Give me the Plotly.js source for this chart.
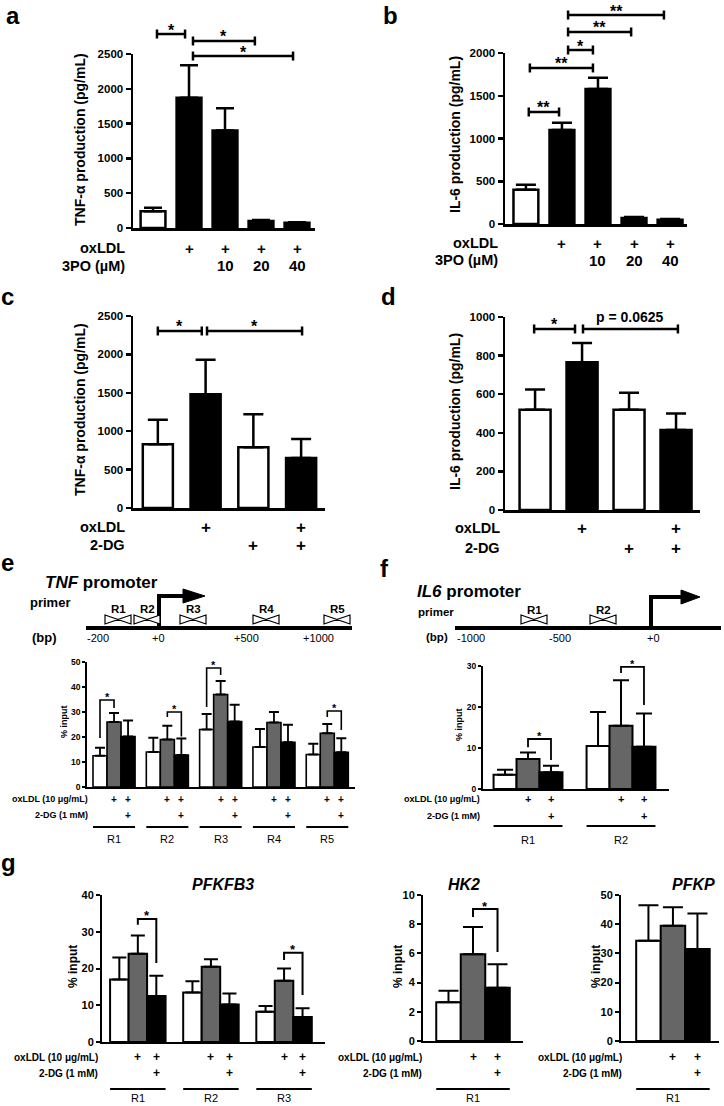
<!DOCTYPE html>
<html><head><meta charset="utf-8">
<script src="https://cdn.plot.ly/plotly-3.0.1.min.js"></script>
<style>html,body{margin:0;padding:0;background:#fff}#chart{width:724px;height:1106px}</style>
</head><body><div id="chart"></div>
<script>
// ================= DATA =================
// panel a : TNF-α (3PO)
const aOx = ['', '+', '+', '+', '+'];
const aDose = ['', '', '10', '20', '40'];
const aTNF = [240, 1870, 1400, 100, 75];
const aTNFErr = [290, 2340, 1720, 115, 82];
const aFill = ['white', 'black', 'black', 'black', 'black'];
const aSigX = [[0.11, 0.89], [1.11, 2.83], [1.11, 3.89]];
const aSigY = [2787, 2687, 2471];
const aSigLab = ['*', '*', '*'];
// panel b : IL-6 (3PO)
const bIL6 = [400, 1100, 1580, 70, 50];
const bIL6Err = [460, 1185, 1710, 82, 58];
const bSigX = [[0.08, 0.92], [0.11, 1.86], [1.17, 1.86], [1.17, 2.92], [1.17, 3.83]];
const bSigY = [1310, 1825, 2035, 2246, 2444];
const bSigLab = ['**', '**', '*', '**', '**'];
// panel c : TNF-α (2-DG)
const cdOx = ['', '+', '', '+'];
const cdDG = ['', '', '+', '+'];
const cdFill = ['white', 'black', 'white', 'black'];
const cTNF = [830, 1480, 790, 650];
const cTNFErr = [1150, 1930, 1220, 900];
const cSigX = [[0, 0.92], [1.03, 3.02]];
const cSigY = [2305, 2305];
const cSigLab = ['*', '*'];
// panel d : IL-6 (2-DG)
const dIL6 = [520, 765, 520, 415];
const dIL6Err = [625, 865, 608, 500];
const dSigX = [[-0.02, 0.85], [1.02, 3.04]];
const dSigY = [938, 938];
const dSigLab = ['*', 'p = 0.0625'];
// ChIP conditions
const chipOx = ['', '+', '+'];
const chipDG = ['', '', '+'];
const chipFill = ['white', '#666666', 'black'];
// panel e : TNF promoter ChIP
const tnfPrimers = ['R1', 'R2', 'R3', 'R4', 'R5'];
const tnfBp = ['-200', '+0', '+500', '+1000'];
const eCtrl = [12.5, 14, 23, 16, 13];
const eCtrlErr = [15.7, 19.7, 29.2, 23.2, 17.3];
const eOx = [26, 19, 37, 25.8, 21.5];
const eOxErr = [29.6, 24.5, 42.4, 30, 25.2];
const eOxDG = [20.2, 12.8, 26.2, 17.9, 13.9];
const eOxDGErr = [26.6, 19.4, 32.9, 24.9, 19.5];
const eSig = [[0, 0, 1, 34.8, 19.6, 31.6], [1, 1, 2, 30, 28, 20.2], [2, 0, 1, 47.6, 32, 44.8], [4, 1, 2, 30.4, 28, 22.8]];
// panel f : IL6 promoter ChIP
const il6Primers = ['R1', 'R2'];
const il6Bp = ['-1000', '-500', '+0'];
const fCtrl = [3.5, 10.5];
const fCtrlErr = [4.7, 18.8];
const fOx = [7.3, 15.4];
const fOxErr = [8.9, 26.5];
const fOxDG = [4.1, 10.3];
const fOxDGErr = [5.7, 18.4];
const fSig = [[0, 1, 2, 12.2, 10.2, 7.1], [1, 1, 2, 29.8, 28.3, 20.5]];
// panel g : PFKFB3 / HK2 / PFKP
const gRegions = ['R1', 'R2', 'R3'];
const pfkfb3Ctrl = [17, 13.5, 8.2];
const pfkfb3CtrlErr = [23, 16.5, 9.8];
const pfkfb3Ox = [24, 20.5, 16.7];
const pfkfb3OxErr = [29, 22.5, 20];
const pfkfb3OxDG = [12.5, 10.2, 6.8];
const pfkfb3OxDGErr = [18, 13.2, 9.2];
const pfkfb3Sig = [[0, 1, 2, 33.5, 31.9, 21.5], [2, 1, 2, 24.3, 22.3, 12.8]];
const hk2 = [2.65, 5.95, 3.65];
const hk2Err = [3.45, 7.8, 5.25];
const hk2Sig = [[0, 1, 2, 9.04, 8.5, 6.1]];
const pfkp = [34.3, 39.5, 31.5];
const pfkpErr = [46.5, 45.8, 43.7];

// ================= LAYOUT HELPERS =================
const W = 724, H = 1106;
const FA = '"Liberation Sans",Arial,Helvetica,sans-serif';
const PX = x => x / W, PY = y => 1 - y / H;

const P = {
  a: {id: '', px: [133, 315], py: [54, 228], xr: [-0.556, 4.5], yr: [0, 2500], dt: 500, lw: 2.5, tf: 11.5, tl: 5},
  b: {id: '2', px: [505, 687], py: [53, 224], xr: [-0.58, 4.47], yr: [0, 2000], dt: 500, lw: 2.5, tf: 11.5, tl: 5},
  c: {id: '3', px: [133, 325], py: [316, 508], xr: [-0.52, 3.5], yr: [0, 2500], dt: 500, lw: 2.5, tf: 11.5, tl: 5},
  d: {id: '4', px: [505, 700], py: [317, 510], xr: [-0.64, 3.51], yr: [0, 1000], dt: 200, lw: 2.5, tf: 11.5, tl: 5},
  e: {id: '5', px: [87, 355], py: [662, 787], xr: [-0.507, 4.52], yr: [0, 50], dt: 10, lw: 1.8, tf: 8.5, tl: 3},
  f: {id: '6', px: [483, 669], py: [666, 789], xr: [-0.484, 1.516], yr: [0, 30], dt: 10, lw: 2, tf: 8.5, tl: 3},
  g: {id: '7', px: [102, 325], py: [895, 1042], xr: [-0.49, 2.56], yr: [0, 40], dt: 10, lw: 2, tf: 11, tl: 4},
  h: {id: '8', px: [423, 523], py: [895, 1041], xr: [-0.51, 0.51], yr: [0, 10], dt: 2, lw: 2, tf: 11, tl: 4},
  k: {id: '9', px: [621, 719], py: [895, 1041], xr: [-0.53, 0.47], yr: [0, 50], dt: 10, lw: 2, tf: 11, tl: 4}
};
const fx = (p, v) => (v - p.xr[0]) / (p.xr[1] - p.xr[0]);
const fy = (p, v) => (v - p.yr[0]) / (p.yr[1] - p.yr[0]);

const layout = {
  width: W, height: H, margin: {l: 0, r: 0, t: 0, b: 0},
  paper_bgcolor: '#ffffff', plot_bgcolor: 'rgba(0,0,0,0)', showlegend: false,
  barmode: 'overlay', font: {family: FA, color: '#000'}, shapes: [], annotations: []
};
const shapes = layout.shapes, ann = layout.annotations;

Object.values(P).forEach(p => {
  layout['xaxis' + p.id] = {domain: [PX(p.px[0]), PX(p.px[1])], range: p.xr, anchor: 'y' + p.id,
    showline: true, linewidth: p.lw, linecolor: '#000', ticks: '', showticklabels: false,
    showgrid: false, zeroline: false, fixedrange: true};
  layout['yaxis' + p.id] = {domain: [PY(p.py[1]), PY(p.py[0])], range: p.yr, anchor: 'x' + p.id,
    showline: true, linewidth: p.lw, linecolor: '#000', ticks: 'outside', ticklen: p.tl,
    tickwidth: p.lw, tickcolor: '#000', tick0: 0, dtick: p.dt,
    tickfont: {family: FA, size: p.tf, weight: 'bold', color: '#000'},
    showgrid: false, zeroline: false, fixedrange: true};
});

function txt(text, x, y, o) {
  o = o || {};
  ann.push(Object.assign({text: text, x: x, y: y, xref: 'paper', yref: 'paper', showarrow: false,
    xanchor: 'center', yanchor: 'middle',
    font: {family: FA, size: o.size || 14, color: '#000'}}, o.extra || {}));
}
function pline(x0, y0, x1, y1, w) {
  shapes.push({type: 'line', xref: 'paper', yref: 'paper', x0: PX(x0), y0: PY(y0), x1: PX(x1), y1: PY(y1),
    line: {color: '#000', width: w}});
}

const traces = [];
function barTrace(p, xs, vals, errs, fills, w, lw, thick, cap) {
  traces.push({type: 'bar', xaxis: 'x' + p.id, yaxis: 'y' + p.id, x: xs, y: vals, width: w,
    marker: {color: fills, line: {color: '#000', width: lw}},
    error_y: {type: 'data', symmetric: false, array: errs.map((e, i) => e - vals[i]),
      arrayminus: vals.map(() => 0), color: '#000', thickness: thick, width: cap},
    cliponaxis: false, hoverinfo: 'skip'});
}

// horizontal significance bracket with end caps (panels a-d)
function hBrackets(p, xs, ys, labs) {
  const xa = 'x' + p.id + ' domain', ya = 'y' + p.id + ' domain';
  xs.forEach((pair, i) => {
    const x0 = fx(p, pair[0]), x1 = fx(p, pair[1]), y = fy(p, ys[i]);
    shapes.push({type: 'line', xref: xa, yref: ya, x0: x0, x1: x1, y0: y, y1: y, line: {color: '#000', width: 2.5}});
    [x0, x1].forEach(xx => shapes.push({type: 'line', xref: xa, yref: ya, x0: xx, x1: xx,
      ysizemode: 'pixel', yanchor: y, y0: -4.5, y1: 4.5, line: {color: '#000', width: 2.5}}));
    const isStar = labs[i].indexOf('*') === 0;
    ann.push({xref: xa, yref: ya, x: (x0 + x1) / 2, y: y, text: '<b>' + labs[i] + '</b>', showarrow: false,
      xanchor: 'center', yanchor: 'middle', yshift: isStar ? 4 : 12,
      font: {family: FA, size: isStar ? 16 : 14, color: '#000'}});
  });
}
// downward bracket (panels e-g)
function dBrackets(p, sig, w, lw, fs) {
  const xa = 'x' + p.id, ya = 'y' + p.id;
  sig.forEach(s => {
    const g = s[0], xl = g + (s[1] - 1) * w, xr = g + (s[2] - 1) * w;
    shapes.push({type: 'path', xref: xa, yref: ya,
      path: 'M' + xl + ',' + s[4] + ' L' + xl + ',' + s[3] + ' L' + xr + ',' + s[3] + ' L' + xr + ',' + s[5],
      line: {color: '#000', width: lw}});
    ann.push({xref: xa, yref: ya, x: (xl + xr) / 2, y: s[3], text: '<b>*</b>', showarrow: false,
      xanchor: 'center', yanchor: 'middle', yshift: 3, font: {family: FA, size: fs, color: '#000'}});
  });
}
// condition rows under a bar chart
function condRows(p, xs, rows, rightPx, ysPx, fsLab, fsSym) {
  rows.forEach((r, j) => {
    ann.push({xref: 'paper', yref: 'paper', x: PX(rightPx), y: PY(ysPx[j]), text: '<b>' + r[0] + '</b>',
      showarrow: false, xanchor: 'right', yanchor: 'middle', font: {family: FA, size: fsLab, color: '#000'}});
    r[1].forEach((t, i) => {
      if (!t) return;
      ann.push({xref: 'x' + p.id, yref: 'paper', x: xs[i], y: PY(ysPx[j]), text: '<b>' + t + '</b>',
        showarrow: false, xanchor: 'center', yanchor: 'middle', font: {family: FA, size: fsSym, color: '#000'}});
    });
  });
}
// region underline + label
function regionRows(p, groups, w, lineY, labY, fs) {
  groups.forEach((g, i) => {
    shapes.push({type: 'line', xref: 'x' + p.id + ' domain', yref: 'paper',
      x0: fx(p, i - 1.5 * w), x1: fx(p, i + 1.5 * w), y0: PY(lineY), y1: PY(lineY), line: {color: '#000', width: 2}});
    ann.push({xref: 'x' + p.id, yref: 'paper', x: i, y: PY(labY), text: g, showarrow: false,
      xanchor: 'center', yanchor: 'middle', font: {family: FA, size: fs, color: '#000'}});
  });
}
function ytitle(text, xPx, yPx, size) {
  txt('<b>' + text + '</b>', PX(xPx), PY(yPx), {size: size, extra: {textangle: -90}});
}
function bowtie(cx, cy, hw, hh) {
  const l = cx - hw, r = cx + hw;
  shapes.push({type: 'path', xref: 'paper', yref: 'paper', fillcolor: '#fff',
    path: 'M' + PX(l) + ',' + PY(cy - hh) + ' L' + PX(cx) + ',' + PY(cy) + ' L' + PX(l) + ',' + PY(cy + hh) + ' Z ' +
          'M' + PX(r) + ',' + PY(cy - hh) + ' L' + PX(cx) + ',' + PY(cy) + ' L' + PX(r) + ',' + PY(cy + hh) + ' Z',
    line: {color: '#000', width: 1.2}});
}
function arrowTSS(x, yBase, yTop, xEnd, headEnd) {
  shapes.push({type: 'path', xref: 'paper', yref: 'paper',
    path: 'M' + PX(x) + ',' + PY(yBase) + ' L' + PX(x) + ',' + PY(yTop) + ' L' + PX(xEnd) + ',' + PY(yTop),
    line: {color: '#000', width: 4}});
  shapes.push({type: 'path', xref: 'paper', yref: 'paper', fillcolor: '#000',
    path: 'M' + PX(xEnd - 2) + ',' + PY(yTop - 7) + ' L' + PX(headEnd) + ',' + PY(yTop) + ' L' + PX(xEnd - 2) + ',' + PY(yTop + 7) + ' Z',
    line: {color: '#000', width: 1}});
}

// ================= PANELS a-d =================
const idx5 = aTNF.map((_, i) => i), idx4 = cTNF.map((_, i) => i);
barTrace(P.a, idx5, aTNF, aTNFErr, aFill, 0.69, 2.5, 2.5, 9);
barTrace(P.b, idx5, bIL6, bIL6Err, aFill, 0.69, 2.5, 2.5, 10);
barTrace(P.c, idx4, cTNF, cTNFErr, cdFill, 0.63, 2.5, 2.5, 10);
barTrace(P.d, idx4, dIL6, dIL6Err, cdFill, 0.66, 2.5, 2.5, 10);
hBrackets(P.a, aSigX, aSigY, aSigLab);
hBrackets(P.b, bSigX, bSigY, bSigLab);
hBrackets(P.c, cSigX, cSigY, cSigLab);
hBrackets(P.d, dSigX, dSigY, dSigLab);
condRows(P.a, idx5, [['oxLDL', aOx], ['3PO (µM)', aDose]], 127, [248, 266], 14.5, 15);
condRows(P.b, idx5, [['oxLDL', aOx], ['3PO (µM)', aDose]], 500, [243, 260], 14.5, 15);
condRows(P.c, idx4, [['oxLDL', cdOx], ['2-DG', cdDG]], 127, [527, 545], 14.5, 17);
condRows(P.d, idx4, [['oxLDL', cdOx], ['2-DG', cdDG]], 502, [528, 548], 14.5, 17);
ytitle('TNF-α production (pg/mL)', 80, 140, 14);
ytitle('IL-6 production (pg/mL)', 455, 135, 14);
ytitle('TNF-α production (pg/mL)', 80, 410, 14);
ytitle('IL-6 production (pg/mL)', 455, 412, 14);

// ================= PANEL e =================
const we = 0.263;
const rep = (arr, n) => Array.from({length: n}, () => arr).flat();
[[eCtrl, eCtrlErr], [eOx, eOxErr], [eOxDG, eOxDGErr]].forEach((s, k) =>
  barTrace(P.e, s[0].map((_, i) => i + (k - 1) * we), s[0], s[1], chipFill[k], we, 1.6, 1.8, 5));
dBrackets(P.e, eSig, we, 1.6, 11);
const eSlots = [];
tnfPrimers.forEach((_, i) => [0, 1, 2].forEach(k => eSlots.push(i + (k - 1) * we)));
condRows(P.e, eSlots, [['oxLDL (10 μg/mL)', rep(chipOx, 5)], ['2-DG (1 mM)', rep(chipDG, 5)]], 90, [799, 815], 9, 10);
regionRows(P.e, tnfPrimers, we, 827, 839, 11);
ytitle('% input', 64, 722, 9);
// promoter diagram
pline(86, 628, 352, 628, 4);
arrowTSS(159, 628, 596, 185, 205);
[118, 147, 193, 266, 337].forEach((cx, i) => {
  bowtie(cx, 619.5, 13, 4.5);
  txt('<b>' + tnfPrimers[i] + '</b>', PX(cx), PY(609), {size: 11.5});
});
[98, 158, 246, 318].forEach((cx, i) => txt(tnfBp[i], PX(cx), PY(638), {size: 11}));
txt('<b><i>TNF</i> promoter</b>', PX(43), PY(582), {size: 17, extra: {xanchor: 'left'}});
txt('<b>primer</b>', PX(28), PY(602), {size: 13, extra: {xanchor: 'left'}});
txt('<b>(bp)</b>', PX(30), PY(637), {size: 13, extra: {xanchor: 'left'}});

// ================= PANEL f =================
const wf = 0.247;
[[fCtrl, fCtrlErr], [fOx, fOxErr], [fOxDG, fOxDGErr]].forEach((s, k) =>
  barTrace(P.f, s[0].map((_, i) => i + (k - 1) * wf), s[0], s[1], chipFill[k], wf, 2, 2, 8));
dBrackets(P.f, fSig, wf, 1.8, 11);
const fSlots = [];
il6Primers.forEach((_, i) => [0, 1, 2].forEach(k => fSlots.push(i + (k - 1) * wf)));
condRows(P.f, fSlots, [['oxLDL (10 μg/mL)', rep(chipOx, 2)], ['2-DG (1 mM)', rep(chipDG, 2)]], 482, [799, 816], 9, 11);
regionRows(P.f, il6Primers, wf, 826, 840, 11);
ytitle('% input', 459, 725, 9);
pline(455, 628, 721, 628, 4);
arrowTSS(651, 628, 597, 683, 700);
[534, 603].forEach((cx, i) => {
  bowtie(cx, 619.5, 13, 4.5);
  txt('<b>' + il6Primers[i] + '</b>', PX(cx), PY(610), {size: 11.5});
});
[471, 560, 653].forEach((cx, i) => txt(il6Bp[i], PX(cx), PY(638), {size: 11}));
txt('<b><i>IL6</i> promoter</b>', PX(415), PY(591), {size: 17, extra: {xanchor: 'left'}});
txt('<b>primer</b>', PX(416), PY(612), {size: 11.5, extra: {xanchor: 'left'}});
txt('<b>(bp)</b>', PX(424), PY(637), {size: 11.5, extra: {xanchor: 'left'}});

// ================= PANEL g =================
const wg = 0.253;
[[pfkfb3Ctrl, pfkfb3CtrlErr], [pfkfb3Ox, pfkfb3OxErr], [pfkfb3OxDG, pfkfb3OxDGErr]].forEach((s, k) =>
  barTrace(P.g, s[0].map((_, i) => i + (k - 1) * wg), s[0], s[1], chipFill[k], wg, 2, 2, 7));
dBrackets(P.g, pfkfb3Sig, wg, 2, 13);
const gSlots = [];
gRegions.forEach((_, i) => [0, 1, 2].forEach(k => gSlots.push(i + (k - 1) * wg)));
condRows(P.g, gSlots, [['oxLDL (10 μg/mL)', rep(chipOx, 3)], ['2-DG (1 mM)', rep(chipDG, 3)]], 100, [1057, 1073], 10, 12);
regionRows(P.g, gRegions, wg, 1089, 1098, 11);
ytitle('% input', 73, 967, 12);
txt('<b><i>PFKFB3</i></b>', PX(223), PY(884), {size: 16});

const w1 = 0.25, slots1 = [-w1, 0, w1];
barTrace(P.h, slots1, hk2, hk2Err, chipFill, w1, 2, 2, 10);
dBrackets(P.h, hk2Sig, w1, 2, 13);
condRows(P.h, slots1, [['oxLDL (10 μg/mL)', chipOx], ['2-DG (1 mM)', chipDG]], 424, [1057, 1073], 10, 12);
regionRows(P.h, ['R1'], w1, 1089, 1098, 11);
ytitle('% input', 398, 967, 12);
txt('<b><i>HK2</i></b>', PX(464), PY(884), {size: 16});

barTrace(P.k, slots1, pfkp, pfkpErr, chipFill, w1, 2, 2, 10);
condRows(P.k, slots1, [['oxLDL (10 μg/mL)', chipOx], ['2-DG (1 mM)', chipDG]], 624, [1057, 1073], 10, 12);
regionRows(P.k, ['R1'], w1, 1089, 1098, 11);
ytitle('% input', 596, 967, 12);
txt('<b><i>PFKP</i></b>', PX(693), PY(884), {size: 16});

// ================= panel letters =================
[['a', 13, 16], ['b', 390, 16], ['c', 7, 296], ['d', 388, 296], ['e', 7, 562], ['f', 385, 568], ['g', 8, 862]]
  .forEach(l => txt('<b>' + l[0] + '</b>', PX(l[1]), PY(l[2]), {size: 24}));

Plotly.newPlot('chart', traces, layout, {staticPlot: true, displayModeBar: false});
</script>
</body></html>
